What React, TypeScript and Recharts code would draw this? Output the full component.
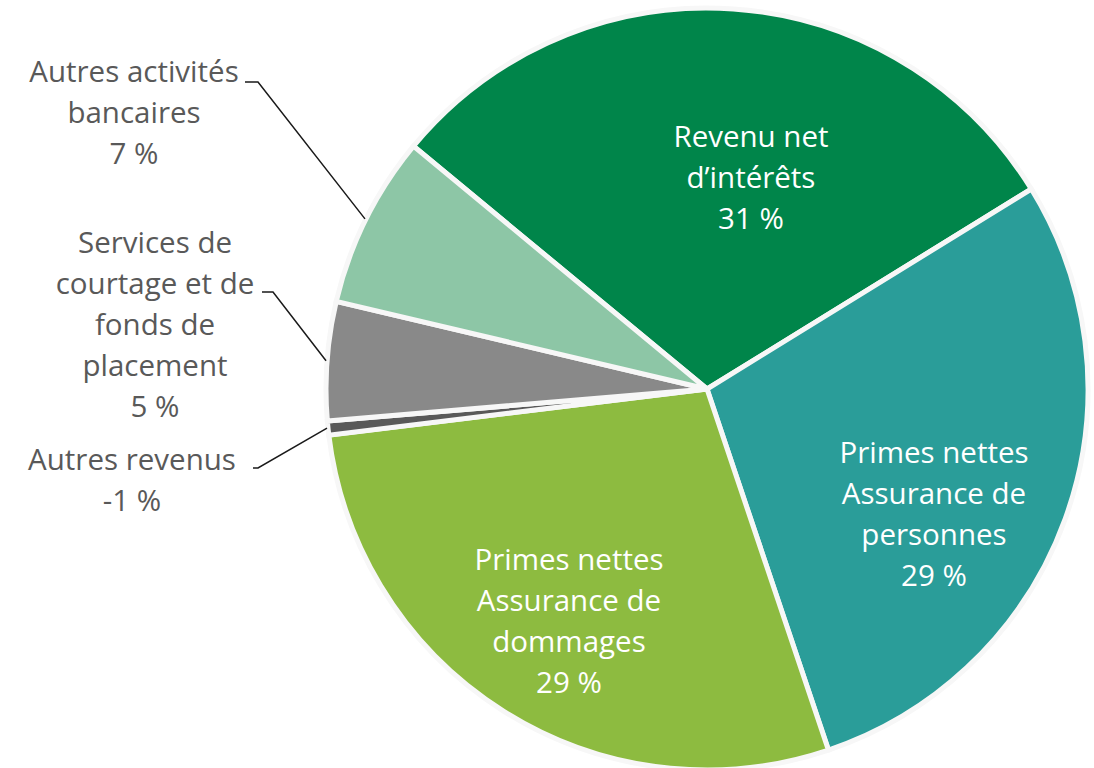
import React from 'react';
import { PieChart, Pie, Cell } from 'recharts';

// Categories in clockwise order starting from the top-left boundary
const categories = [
  'Revenu net d’intérêts',
  'Primes nettes Assurance de personnes',
  'Primes nettes Assurance de dommages',
  'Autres revenus',
  'Services de courtage et de fonds de placement',
  'Autres activités bancaires',
];

// Label text broken in lines as in the reference
const labelLines = [
  ['Revenu net', 'd’intérêts'],
  ['Primes nettes', 'Assurance de', 'personnes'],
  ['Primes nettes', 'Assurance de', 'dommages'],
  ['Autres revenus'],
  ['Services de', 'courtage et de', 'fonds de', 'placement'],
  ['Autres activités', 'bancaires'],
];

// Share of revenue (%)
const shares = [30.6, 29.0, 28.6, -0.6, 5.1, 7.4];

const colors = ['#00854A', '#2A9D99', '#8DBB40', '#595959', '#898989', '#8DC6A6'];

// Label placement relative to the pie centre (first baseline, text centre)
type Place = { inside: boolean; dx: number; dy: number; bend?: [number, number]; end?: [number, number] };
const placements: Place[] = [
  { inside: true, dx: 44, dy: -242 },
  { inside: true, dx: 227, dy: 74 },
  { inside: true, dx: -138, dy: 181 },
  { inside: false, dx: -575, dy: 81, bend: [-449, 79], end: [-454, 79] },
  { inside: false, dx: -552, dy: -136, bend: [-434, -97], end: [-445, -97] },
  { inside: false, dx: -573, dy: -307, bend: [-449, -307], end: [-462, -307] },
];

const data = categories.map((name, i) => ({ name, share: shares[i], size: Math.abs(shares[i]) }));

const FONT = '"Open Sans", Lato, sans-serif';
const LINE_H = 41;
const RAD = Math.PI / 180;

const renderLabel = (props: any) => {
  const { cx, cy, midAngle, outerRadius, index } = props;
  const p = placements[index];
  const lines = [...labelLines[index], `${Math.round(shares[index])} %`];
  const tx = cx + p.dx;
  const text = (
    <text
      textAnchor="middle"
      fill={p.inside ? '#FFFFFF' : '#595959'}
      fontFamily={FONT}
      fontSize={29.5}
    >
      {lines.map((t, i) => (
        <tspan key={i} x={tx} y={cy + p.dy + i * LINE_H}>
          {t}
        </tspan>
      ))}
    </text>
  );
  if (p.inside) return <g key={`l${index}`}>{text}</g>;
  const r = outerRadius + 1;
  const sx = cx + r * Math.cos(-midAngle * RAD);
  const sy = cy + r * Math.sin(-midAngle * RAD);
  const pts = `${sx},${sy} ${cx + p.bend![0]},${cy + p.bend![1]} ${cx + p.end![0]},${cy + p.end![1]}`;
  return (
    <g key={`l${index}`}>
      <polyline points={pts} fill="none" stroke="#1a1a1a" strokeWidth={1.5} />
      {text}
    </g>
  );
};

export default function App() {
  return (
    <div style={{ position: 'absolute', left: 0, top: 0, width: 1094, height: 768, background: '#fff' }}>
      <PieChart width={1094} height={768} margin={{ top: 0, right: 0, bottom: 0, left: 0 }}>
        <Pie
          data={data}
          dataKey="size"
          nameKey="name"
          cx={707}
          cy={389}
          outerRadius={381}
          startAngle={140.4}
          endAngle={-219.6}
          stroke="#F7F7F7"
          strokeWidth={5}
          isAnimationActive={false}
          label={renderLabel}
          labelLine={false}
        >
          {data.map((d, i) => (
            <Cell key={d.name} fill={colors[i]} />
          ))}
        </Pie>
      </PieChart>
    </div>
  );
}
